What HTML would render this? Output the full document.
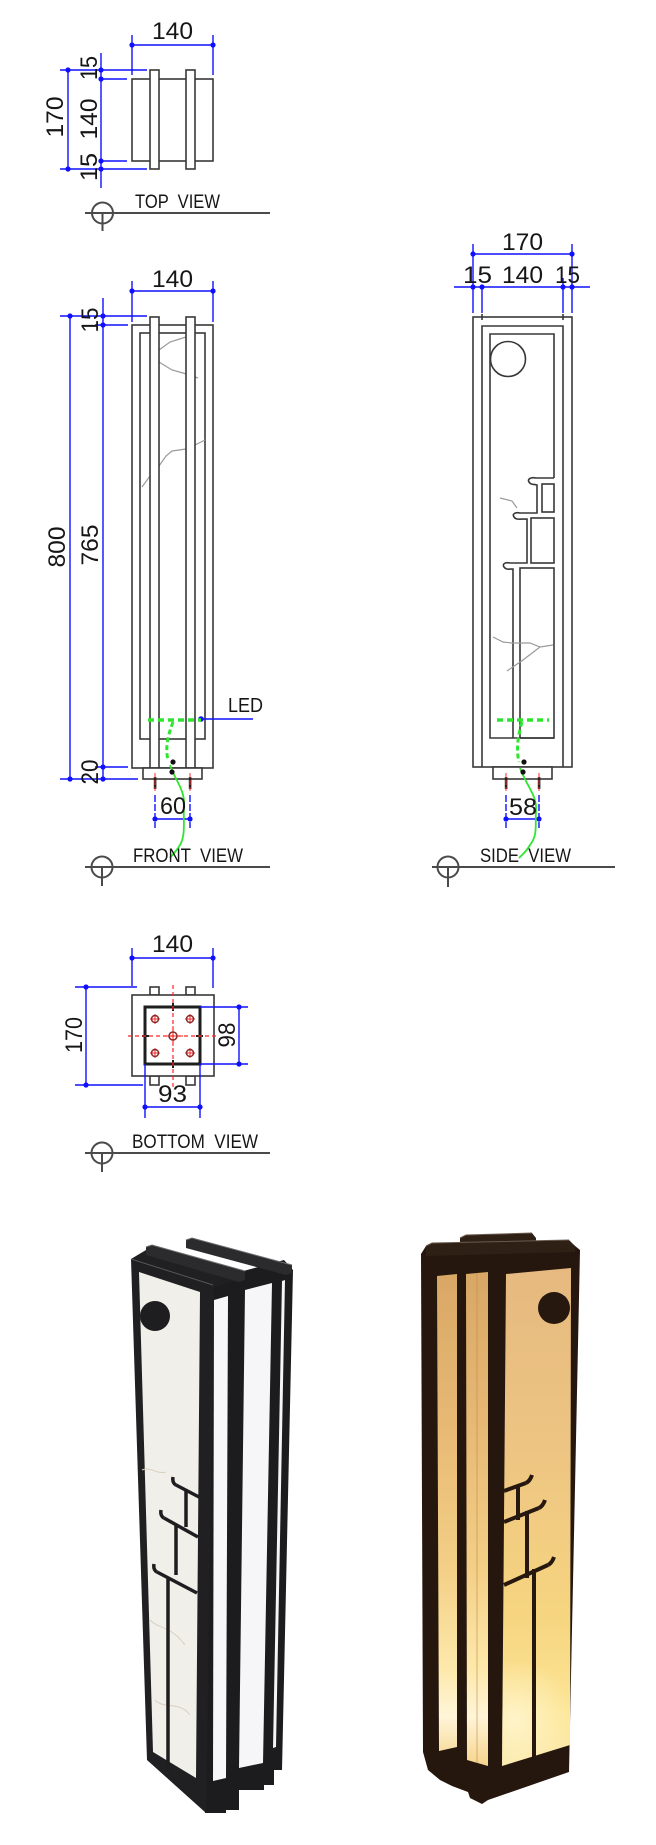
<!DOCTYPE html>
<html><head><meta charset="utf-8"><style>
html,body{margin:0;padding:0;background:#fff;}
svg{display:block}
text{font-family:"Liberation Sans",Arial,sans-serif;fill:#161616}
</style></head><body>
<svg width="656" height="1845" viewBox="0 0 656 1845" xmlns="http://www.w3.org/2000/svg">
<defs>
 <linearGradient id="glowL" gradientUnits="userSpaceOnUse" x1="0" y1="1272" x2="0" y2="1766">
  <stop offset="0" stop-color="#d9a765"/>
  <stop offset="0.3" stop-color="#e6b874"/>
  <stop offset="0.6" stop-color="#f3cf86"/>
  <stop offset="0.8" stop-color="#fde8aa"/>
  <stop offset="0.9" stop-color="#fff5d8"/>
  <stop offset="1" stop-color="#f6d48d"/>
 </linearGradient>
 <linearGradient id="glowF" gradientUnits="userSpaceOnUse" x1="0" y1="1268" x2="0" y2="1766">
  <stop offset="0" stop-color="#e6b980"/>
  <stop offset="0.4" stop-color="#eec682"/>
  <stop offset="0.7" stop-color="#f6d580"/>
  <stop offset="0.9" stop-color="#fde696"/>
  <stop offset="1" stop-color="#fbe8aa"/>
 </linearGradient>
 <radialGradient id="glowR" gradientUnits="userSpaceOnUse" cx="515" cy="1720" r="60">
  <stop offset="0" stop-color="#fff6cf" stop-opacity="0.9"/>
  <stop offset="1" stop-color="#fff6cf" stop-opacity="0"/>
 </radialGradient>
</defs>

<!-- ================= TOP VIEW ================= -->
<g fill="none" stroke="#383838" stroke-width="1.6">
 <rect x="132" y="79" width="81" height="82"/>
 <rect x="150" y="70" width="9" height="99" fill="#fff"/>
 <rect x="186" y="70" width="9" height="99" fill="#fff"/>
</g>
<g stroke="#1010ff" stroke-width="1.4" fill="none">
 <line x1="132" y1="45" x2="213" y2="45"/>
 <line x1="132" y1="35" x2="132" y2="75"/>
 <line x1="213" y1="35" x2="213" y2="75"/>
 <line x1="68" y1="70" x2="68" y2="169"/>
 <line x1="60" y1="70" x2="147" y2="70"/>
 <line x1="60" y1="169" x2="147" y2="169"/>
 <line x1="101" y1="53" x2="101" y2="188"/>
 <line x1="101" y1="79" x2="127" y2="79"/>
 <line x1="101" y1="161" x2="127" y2="161"/>
</g>
<g fill="#1010ff">
 <circle cx="132" cy="45" r="2.6"/><circle cx="213" cy="45" r="2.6"/>
 <circle cx="68" cy="70" r="2.6"/><circle cx="68" cy="169" r="2.6"/>
 <circle cx="101" cy="70" r="2.6"/><circle cx="101" cy="79" r="2.6"/>
 <circle cx="101" cy="161" r="2.6"/><circle cx="101" cy="169" r="2.6"/>
</g>
<g font-size="24">
 <text x="152" y="39" textLength="41" lengthAdjust="spacingAndGlyphs">140</text>
 <text transform="translate(63,117) rotate(-90)" text-anchor="middle" textLength="41" lengthAdjust="spacingAndGlyphs">170</text>
 <text transform="translate(97,68) rotate(-90)" text-anchor="middle" textLength="24" lengthAdjust="spacingAndGlyphs">15</text>
 <text transform="translate(97,119) rotate(-90)" text-anchor="middle" textLength="41" lengthAdjust="spacingAndGlyphs">140</text>
 <text transform="translate(97,167) rotate(-90)" text-anchor="middle" textLength="28" lengthAdjust="spacingAndGlyphs">15</text>
</g>
<text x="135" y="208" font-size="19" style="white-space:pre" textLength="85" lengthAdjust="spacingAndGlyphs">TOP  VIEW</text>
<g stroke="#4a4a4a" stroke-width="2" fill="none">
 <line x1="85" y1="213" x2="270" y2="213"/><circle cx="102.5" cy="213" r="10.5"/><line x1="102.5" y1="213" x2="102.5" y2="231"/>
</g>

<!-- ================= FRONT VIEW ================= -->
<g fill="none" stroke="#383838" stroke-width="1.6">
 <rect x="132" y="325" width="81" height="443"/>
 <rect x="140" y="333" width="65" height="406"/>
</g>
<g fill="none" stroke="#9a9a9a" stroke-width="1.2">
 <polyline points="159,350 170,342 186,337"/>
 <polyline points="159,362 172,370 183,373 198,378"/>
 <polyline points="142,487 150,476 159,466 166,456 172,451 186,449 195,445 205,440"/>
</g>
<g fill="#fff" stroke="#383838" stroke-width="1.6">
 <rect x="150" y="317" width="9" height="451"/>
 <rect x="186" y="317" width="9" height="451"/>
 <rect x="143" y="768" width="59" height="11"/>
</g>
<g stroke="#1010ff" stroke-width="1.4" fill="none">
 <line x1="132" y1="291" x2="213" y2="291"/>
 <line x1="132" y1="281" x2="132" y2="322"/>
 <line x1="213" y1="281" x2="213" y2="322"/>
 <line x1="70" y1="316" x2="70" y2="779"/>
 <line x1="103" y1="298" x2="103" y2="779"/>
 <line x1="60" y1="316" x2="147" y2="316"/>
 <line x1="95" y1="325" x2="128" y2="325"/>
 <line x1="95" y1="767" x2="128" y2="767"/>
 <line x1="60" y1="779" x2="138" y2="779"/>
 <line x1="201" y1="719" x2="253" y2="719"/>
 <line x1="155" y1="819" x2="190" y2="819"/>
 <line x1="155" y1="795" x2="155" y2="828" stroke-dasharray="7,2"/>
 <line x1="190" y1="795" x2="190" y2="828" stroke-dasharray="7,2"/>
</g>
<g fill="#1010ff">
 <circle cx="132" cy="291" r="2.6"/><circle cx="213" cy="291" r="2.6"/>
 <circle cx="70" cy="316" r="2.6"/><circle cx="103" cy="316" r="2.6"/><circle cx="103" cy="325" r="2.6"/>
 <circle cx="70" cy="779" r="2.6"/><circle cx="103" cy="767" r="2.6"/><circle cx="103" cy="779" r="2.6"/>
 <circle cx="201" cy="719" r="2.8"/>
 <circle cx="155" cy="819" r="2.6"/><circle cx="190" cy="819" r="2.6"/>
</g>
<g>
 <rect x="153.8" y="777" width="2.6" height="12" fill="#222"/>
 <rect x="188.8" y="777" width="2.6" height="12" fill="#222"/>
 <line x1="155" y1="773" x2="155" y2="791" stroke="#ff2a2a" stroke-width="1" stroke-dasharray="5,2"/>
 <line x1="190" y1="773" x2="190" y2="791" stroke="#ff2a2a" stroke-width="1" stroke-dasharray="5,2"/>
</g>
<line x1="148" y1="720" x2="201" y2="720" stroke="#2ee62e" stroke-width="3.5" stroke-dasharray="6,4"/>
<path d="M173,722 C168,735 165,748 168,760" fill="none" stroke="#2ee62e" stroke-width="3" stroke-dasharray="5,3"/>
<path d="M170,765 C175,780 185,790 184,805 C183,820 186,835 180,845 C176,852 172,855 170,858" fill="none" stroke="#2ee62e" stroke-width="1.8"/>
<circle cx="173" cy="762" r="2.6" fill="#111"/><circle cx="172" cy="772" r="2.6" fill="#111"/>
<g font-size="24">
 <text x="152" y="287" textLength="41" lengthAdjust="spacingAndGlyphs">140</text>
 <text transform="translate(98,320) rotate(-90)" text-anchor="middle" textLength="25" lengthAdjust="spacingAndGlyphs">15</text>
 <text transform="translate(65,547) rotate(-90)" text-anchor="middle" textLength="41" lengthAdjust="spacingAndGlyphs">800</text>
 <text transform="translate(98,545) rotate(-90)" text-anchor="middle" textLength="41" lengthAdjust="spacingAndGlyphs">765</text>
 <text transform="translate(98,772) rotate(-90)" text-anchor="middle" textLength="25" lengthAdjust="spacingAndGlyphs">20</text>
 <text x="160" y="814" textLength="26" lengthAdjust="spacingAndGlyphs">60</text>
</g>
<text x="228" y="712" font-size="20" textLength="35" lengthAdjust="spacingAndGlyphs">LED</text>
<text x="133" y="862" font-size="19" style="white-space:pre" textLength="110" lengthAdjust="spacingAndGlyphs">FRONT  VIEW</text>
<g stroke="#4a4a4a" stroke-width="2" fill="none">
 <line x1="85" y1="867" x2="270" y2="867"/><circle cx="102" cy="867" r="10.5"/><line x1="102" y1="867" x2="102" y2="886"/>
</g>

<!-- ================= SIDE VIEW ================= -->
<g fill="none" stroke="#383838" stroke-width="1.6">
 <rect x="473" y="317" width="99" height="450"/>
 <polyline points="482,767 482,326 563,326 563,767"/>
 <line x1="482" y1="314" x2="482" y2="320"/>
 <line x1="563" y1="314" x2="563" y2="320"/>
 <polyline points="554,478 554,334 490,334 490,738 554,738"/>
 <circle cx="508" cy="359" r="17.5"/>
 <path d="M554,478 L536,478 C531,477 527,479 529,482 C531,485 533,484 537,485 L537,513 L520,513 C515,512 512,514 514,517 C516,520 519,519 527,519 L527,563 L510,563 C505,562 502,564 504,567 C506,570 509,569 513,569 L513,738"/>
 <rect x="542" y="484" width="12" height="28"/>
 <rect x="531" y="518" width="23" height="45"/>
 <rect x="520" y="568" width="34" height="170"/>
 <rect x="493" y="767" width="59" height="12" fill="#fff"/>
</g>
<g fill="none" stroke="#9a9a9a" stroke-width="1.2">
 <polyline points="500,498 512,501 517,508"/>
 <polyline points="493,637 503,642 512,643 530,643 540,647 553,645"/>
 <polyline points="540,647 523,660 507,671"/>
</g>
<g stroke="#1010ff" stroke-width="1.4" fill="none">
 <line x1="473" y1="254" x2="572" y2="254"/>
 <line x1="454" y1="287" x2="590" y2="287"/>
 <line x1="473" y1="244" x2="473" y2="313"/>
 <line x1="572" y1="244" x2="572" y2="313"/>
 <line x1="482" y1="285" x2="482" y2="313"/>
 <line x1="563" y1="278" x2="563" y2="313"/>
 <line x1="506" y1="819" x2="539" y2="819"/>
 <line x1="506" y1="795" x2="506" y2="828" stroke-dasharray="7,2"/>
 <line x1="539" y1="795" x2="539" y2="828" stroke-dasharray="7,2"/>
</g>
<g fill="#1010ff">
 <circle cx="473" cy="254" r="2.6"/><circle cx="572" cy="254" r="2.6"/>
 <circle cx="473" cy="287" r="2.6"/><circle cx="482" cy="287" r="2.6"/>
 <circle cx="563" cy="287" r="2.6"/><circle cx="572" cy="287" r="2.6"/>
 <circle cx="506" cy="819" r="2.6"/><circle cx="539" cy="819" r="2.6"/>
</g>
<g>
 <rect x="504.8" y="777" width="2.6" height="12" fill="#222"/>
 <rect x="537.8" y="777" width="2.6" height="12" fill="#222"/>
 <line x1="506" y1="773" x2="506" y2="791" stroke="#ff2a2a" stroke-width="1" stroke-dasharray="5,2"/>
 <line x1="539" y1="773" x2="539" y2="791" stroke="#ff2a2a" stroke-width="1" stroke-dasharray="5,2"/>
</g>
<line x1="497" y1="720" x2="549" y2="720" stroke="#2ee62e" stroke-width="3.5" stroke-dasharray="6,4"/>
<path d="M522,722 C518,735 516,750 519,762" fill="none" stroke="#2ee62e" stroke-width="3" stroke-dasharray="5,3"/>
<path d="M520,768 C526,785 537,795 536,810 C535,825 538,835 530,845 C526,852 522,855 519,858" fill="none" stroke="#2ee62e" stroke-width="1.8"/>
<circle cx="524" cy="762" r="2.6" fill="#111"/><circle cx="523" cy="772" r="2.6" fill="#111"/>
<g font-size="24">
 <text x="502" y="250" textLength="41" lengthAdjust="spacingAndGlyphs">170</text>
 <text x="463" y="283" textLength="29" lengthAdjust="spacingAndGlyphs">15</text>
 <text x="502" y="283" textLength="41" lengthAdjust="spacingAndGlyphs">140</text>
 <text x="555" y="283" textLength="25" lengthAdjust="spacingAndGlyphs">15</text>
 <text x="509" y="815" textLength="28" lengthAdjust="spacingAndGlyphs">58</text>
</g>
<text x="480" y="862" font-size="19" style="white-space:pre" textLength="91" lengthAdjust="spacingAndGlyphs">SIDE  VIEW</text>
<g stroke="#4a4a4a" stroke-width="2" fill="none">
 <line x1="432" y1="867" x2="615" y2="867"/><circle cx="448" cy="867" r="10.5"/><line x1="448" y1="867" x2="448" y2="887"/>
</g>

<!-- ================= BOTTOM VIEW ================= -->
<g fill="#fff" stroke="#383838" stroke-width="1.6">
 <rect x="150" y="987" width="9" height="8"/>
 <rect x="186" y="987" width="9" height="8"/>
 <rect x="150" y="1076" width="9" height="9"/>
 <rect x="186" y="1076" width="9" height="9"/>
 <rect x="132" y="995" width="82" height="81"/>
</g>
<rect x="145" y="1007" width="55" height="57" fill="none" stroke="#1e1e1e" stroke-width="3"/>
<g stroke="#1e1e1e" stroke-width="2">
 <line x1="173" y1="1003" x2="173" y2="1011"/>
 <line x1="173" y1="1060" x2="173" y2="1068"/>
 <line x1="142" y1="1036" x2="149" y2="1036"/>
 <line x1="196" y1="1036" x2="203" y2="1036"/>
</g>
<g stroke="#ff2424" stroke-width="1.2" stroke-dasharray="4,3">
 <line x1="173" y1="985" x2="173" y2="1088"/>
 <line x1="128" y1="1036" x2="217" y2="1036"/>
</g>
<g stroke="#ff2424" stroke-width="1">
 <line x1="150" y1="1019" x2="160" y2="1019"/><line x1="155" y1="1014" x2="155" y2="1024"/>
 <line x1="185" y1="1019" x2="195" y2="1019"/><line x1="190" y1="1014" x2="190" y2="1024"/>
 <line x1="150" y1="1053" x2="160" y2="1053"/><line x1="155" y1="1048" x2="155" y2="1058"/>
 <line x1="185" y1="1053" x2="195" y2="1053"/><line x1="190" y1="1048" x2="190" y2="1058"/>
 <line x1="163" y1="1036" x2="183" y2="1036"/><line x1="173" y1="1026" x2="173" y2="1046"/>
</g>
<g fill="none" stroke="#8a2a2a" stroke-width="1.5">
 <circle cx="155" cy="1019" r="3.5"/><circle cx="190" cy="1019" r="3.5"/>
 <circle cx="155" cy="1053" r="3.5"/><circle cx="190" cy="1053" r="3.5"/>
 <circle cx="173" cy="1036" r="4"/>
</g>
<g stroke="#1010ff" stroke-width="1.4" fill="none">
 <line x1="132" y1="958" x2="213" y2="958"/>
 <line x1="132" y1="948" x2="132" y2="986"/>
 <line x1="213" y1="948" x2="213" y2="988"/>
 <line x1="86" y1="987" x2="86" y2="1085"/>
 <line x1="75" y1="987" x2="137" y2="987"/>
 <line x1="75" y1="1085" x2="143" y2="1085"/>
 <line x1="239" y1="1007" x2="239" y2="1064"/>
 <line x1="200" y1="1007" x2="248" y2="1007"/>
 <line x1="200" y1="1064" x2="248" y2="1064"/>
 <line x1="145" y1="1107" x2="200" y2="1107"/>
 <line x1="145" y1="1064" x2="145" y2="1118"/>
 <line x1="200" y1="1064" x2="200" y2="1118"/>
</g>
<g fill="#1010ff">
 <circle cx="132" cy="958" r="2.6"/><circle cx="213" cy="958" r="2.6"/>
 <circle cx="86" cy="987" r="2.6"/><circle cx="86" cy="1085" r="2.6"/>
 <circle cx="239" cy="1007" r="2.6"/><circle cx="239" cy="1064" r="2.6"/>
 <circle cx="145" cy="1107" r="2.6"/><circle cx="200" cy="1107" r="2.6"/>
</g>
<g font-size="24">
 <text x="152" y="952" textLength="41" lengthAdjust="spacingAndGlyphs">140</text>
 <text transform="translate(82,1035) rotate(-90)" text-anchor="middle" textLength="36" lengthAdjust="spacingAndGlyphs">170</text>
 <text transform="translate(235,1035) rotate(-90)" text-anchor="middle" textLength="25" lengthAdjust="spacingAndGlyphs">98</text>
 <text x="158" y="1102" textLength="29" lengthAdjust="spacingAndGlyphs">93</text>
</g>
<text x="132" y="1148" font-size="19" style="white-space:pre" textLength="126" lengthAdjust="spacingAndGlyphs">BOTTOM  VIEW</text>
<g stroke="#4a4a4a" stroke-width="2" fill="none">
 <line x1="85" y1="1153" x2="270" y2="1153"/><circle cx="102" cy="1153" r="10.5"/><line x1="102" y1="1153" x2="102" y2="1172"/>
</g>

<!-- ================= PHOTO 1 (white lamp) ================= -->
<polygon fill="#1c1c1e" points="199,1283 284,1260 293,1270 282,1770 274,1770 274,1785 264,1785 264,1790 239,1790 239,1810 226,1810 226,1813 205,1813"/>
<polygon fill="#202022" points="131,1259 146,1250 245,1278 214,1287 206,1813 147,1760"/>
<polygon fill="#2b2b2d" points="186,1240 192,1238 292,1265 292,1273 286,1275 186,1248"/>
<polygon fill="#2b2b2d" points="146,1247 152,1245 245,1271 245,1280 239,1282 146,1255"/>
<polyline points="186,1240 192,1238 292,1265" fill="none" stroke="#6d6d70" stroke-width="1"/>
<polyline points="146,1247 152,1245 245,1271" fill="none" stroke="#6d6d70" stroke-width="1"/>
<polyline points="131,1259 213,1285" fill="none" stroke="#555" stroke-width="1"/>
<polygon fill="#f1efea" points="139,1272 200,1292 196,1778 153,1752"/>
<g fill="none" stroke="#d9cfbd" stroke-width="1">
 <path d="M142,1470 C150,1466 158,1475 166,1472"/>
 <path d="M150,1620 C160,1630 170,1625 185,1645"/>
 <path d="M155,1700 C165,1710 178,1700 190,1715"/>
</g>
<circle cx="155" cy="1316" r="15" fill="#1e1e20"/>
<g fill="none" stroke="#1e1e20" stroke-width="3.5">
 <path d="M176,1485 L199,1497 M186,1491 L186,1527 M164,1518 L198,1537 M176,1525 L176,1575 M157,1572 L197,1593 M168,1578 L168,1772"/>
 <path d="M176,1485 q-4,-2 -3,-8 M164,1518 q-4,-2 -3,-8 M157,1572 q-4,-2 -3,-8"/>
</g>
<polygon fill="#f7f7f9" points="214,1300 228,1296 226,1778 213,1781"/>
<polygon fill="#f6f6f8" points="245,1290 272,1283 263,1763 239,1768"/>
<polygon fill="#f4f4f6" points="282,1281 285,1280 276,1747 273,1748"/>

<!-- ================= PHOTO 2 (lit lamp) ================= -->
<polygon fill="#25170e" points="421,1254 426,1246 569,1241 580,1250 569,1772 488,1800 482,1804 470,1798 468,1792 452,1786 440,1780 428,1770 423,1752"/>
<polygon fill="#2f2016" points="460,1238 466,1235 532,1233 536,1238 536,1242 460,1245"/>
<polygon fill="#2f2016" points="426,1246 432,1243 569,1240 575,1246 575,1252 426,1256"/>
<polyline points="460,1238 466,1235 532,1233" fill="none" stroke="#6a5a4e" stroke-width="1"/>
<polyline points="426,1246 432,1243 569,1240" fill="none" stroke="#6a5a4e" stroke-width="1"/>
<polygon fill="url(#glowL)" points="437,1276 457,1274 457,1747 439,1751"/>
<polygon fill="url(#glowL)" points="466,1274 488,1272 488,1766 467,1760"/>
<line x1="477" y1="1273" x2="477" y2="1763" stroke="#c08a48" stroke-width="1" opacity="0.6"/>
<polygon fill="url(#glowF)" points="506,1274 571,1268 570,1745 502,1766"/>
<polygon fill="url(#glowR)" points="506,1274 571,1268 570,1745 502,1766"/>
<circle cx="554" cy="1308" r="16" fill="#26180f"/>
<g fill="none" stroke="#26180f" stroke-width="4">
 <path d="M504,1491 L526,1483 M518,1486 L518,1520 M504,1522 L539,1508 M527,1511 L527,1578 M504,1585 L548,1565 M534,1569 L534,1758"/>
 <path d="M526,1483 q4,-2 6,-8 M539,1508 q4,-2 6,-8 M548,1565 q4,-2 6,-8"/>
</g>
</svg>
</body></html>
